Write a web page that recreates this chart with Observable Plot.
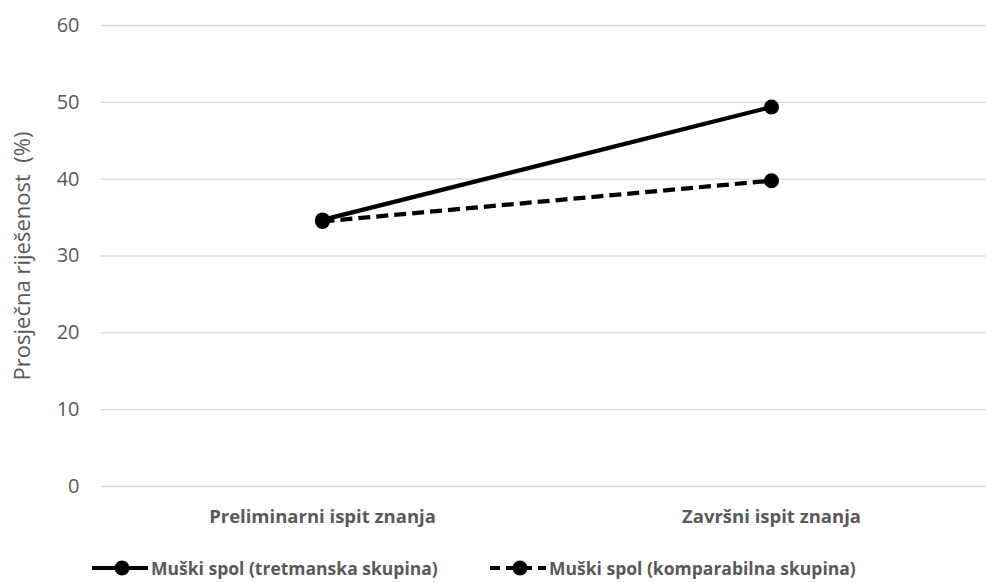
<!DOCTYPE html>
<html>
<head>
<meta charset="utf-8">
<script src="https://cdn.jsdelivr.net/npm/d3@7"></script>
<script src="https://cdn.jsdelivr.net/npm/@observablehq/plot@0.6"></script>
<style>
  html, body { margin: 0; padding: 0; background: #fff; }
  body { width: 986px; height: 583px; overflow: hidden; font-family: "Open Sans", sans-serif; position: relative; }
  .item { display: flex; align-items: center; position: absolute; font-weight: bold; font-size: 17.5px; color: #595959; white-space: nowrap; }
</style>
</head>
<body>
<div id="chart"></div>
<div id="legend"></div>
<script>
const tests = ["Preliminarni ispit znanja", "Završni ispit znanja"];
const seriesNames = ["Muški spol (tretmanska skupina)", "Muški spol (komparabilna skupina)"];
const treatment = [34.7, 49.4];
const comparison = [34.5, 39.8];
const yTicks = [0, 10, 20, 30, 40, 50, 60];
const yTitle = "Prosječna riješenost  (%)";

const rows = [];
tests.forEach((t, i) => rows.push({test: t, value: treatment[i], series: seriesNames[0]}));
tests.forEach((t, i) => rows.push({test: t, value: comparison[i], series: seriesNames[1]}));
const dashFor = {[seriesNames[0]]: null, [seriesNames[1]]: "12,6"};
const FONT = "'Open Sans', sans-serif";

const chart = Plot.plot({
  width: 986,
  height: 545,
  marginTop: 25,
  marginBottom: 59,
  marginLeft: 101,
  marginRight: 0,
  style: {fontFamily: FONT, fontSize: "17px", color: "#595959", background: "#fff"},
  x: {type: "point", domain: tests, range: [322, 771], padding: 0, label: null},
  y: {domain: [0, 60], ticks: yTicks, label: null},
  marks: [
    Plot.ruleY(yTicks, {stroke: "#d9d9d9", strokeWidth: 1.3}),
    Plot.axisY({ticks: yTicks, tickSize: 0, tickPadding: 22, fontSize: 20, label: null, fill: "#595959"}),
    Plot.axisX({tickSize: 0, tickPadding: 23, fontSize: 18.5, fontWeight: "bold", label: null, fill: "#595959"}),
    Plot.text([yTitle], {frameAnchor: "left", textAnchor: "middle", lineAnchor: "middle", rotate: -90, dx: -79, fontSize: 22, fill: "#595959", text: d => d}),
    ...seriesNames.map(s => Plot.line(rows.filter(r => r.series === s), {
      x: "test", y: "value", stroke: "#000", strokeWidth: 4.2,
      strokeDasharray: dashFor[s], strokeLinecap: "butt"
    })),
    ...seriesNames.map(s => Plot.dot(rows.filter(r => r.series === s), {
      x: "test", y: "value", r: 7.5, fill: "#000", stroke: "none"
    }))
  ]
});
document.getElementById("chart").appendChild(chart);

const legend = document.getElementById("legend");
const swatchX = [92, 490];
seriesNames.forEach((s, i) => {
  const item = document.createElement("div");
  item.className = "item";
  item.style.left = swatchX[i] + "px";
  item.style.top = "553px";
  const dash = dashFor[s] ? `stroke-dasharray="10,6"` : "";
  item.innerHTML = `<svg width="56" height="30" style="margin-right:3px"><line x1="0" x2="56" y1="15" y2="15" stroke="#000" stroke-width="4.2" ${dash}/><circle cx="30" cy="15" r="7.5" fill="#000"/></svg><span>${s}</span>`;
  legend.appendChild(item);
});
</script>
</body>
</html>
